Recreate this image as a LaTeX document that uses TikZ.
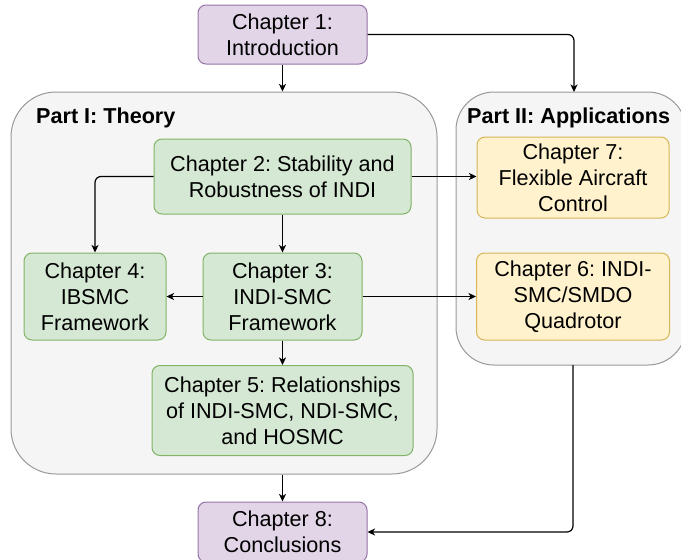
\documentclass[tikz,border=0pt]{standalone}
\usepackage{fontspec}
\setmainfont{Liberation Sans}
\usetikzlibrary{arrows.meta}
\frenchspacing
\definecolor{purplefill}{HTML}{E1D5E7}
\definecolor{purpledraw}{HTML}{9673A6}
\definecolor{greenfill}{HTML}{D5E8D4}
\definecolor{greendraw}{HTML}{82B366}
\definecolor{yellowfill}{HTML}{FFF2CC}
\definecolor{yellowdraw}{HTML}{D6B656}
\definecolor{partfill}{HTML}{F5F5F5}
\definecolor{partdraw}{HTML}{999999}
\tikzset{
  chap/.style={draw, rounded corners=8pt, align=center, line width=1pt, inner sep=0pt,
    font=\fontsize{21.6}{26}\selectfont\frenchspacing},
  purplebox/.style={chap, fill=purplefill, draw=purpledraw},
  greenbox/.style={chap, fill=greenfill, draw=greendraw},
  yellowbox/.style={chap, fill=yellowfill, draw=yellowdraw},
  partbox/.style={draw=partdraw, fill=partfill, line width=1pt, inner sep=0pt},
  partlabel/.style={anchor=west, inner sep=0pt, font=\fontsize{21.6}{26}\selectfont\bfseries\frenchspacing},
  arr/.style={draw=black, line width=1.2pt, -{Stealth[length=7.5pt,width=7pt,inset=2pt]}},
}
\begin{document}
\begin{tikzpicture}[x=1pt,y=-1pt]
\useasboundingbox (0,0) rectangle (681,560);
\clip (0,0) rectangle (681,560);
% containers
\node[partbox, rounded corners=45pt, minimum width=426pt, minimum height=382pt] (p1) at (224,283) {};
\node[partbox, rounded corners=38pt, minimum width=230pt, minimum height=273pt] (p2) at (571,228.5) {};
\node[partlabel] (l1) at (36,118) {Part I: Theory};
\node[partlabel] (l2) at (467,118) {Part II: Applications};
% chapters
\node[purplebox, minimum width=169pt, minimum height=59pt] (c1) at (282.5,34.5) {Chapter 1:\\Introduction};
\node[greenbox, minimum width=257pt, minimum height=75pt] (c2) at (282.5,176.5) {Chapter 2: Stability and\\Robustness of INDI};
\node[yellowbox, minimum width=192pt, minimum height=81pt] (c7) at (573,177.5) {Chapter 7:\\Flexible Aircraft\\Control};
\node[greenbox, minimum width=142pt, minimum height=87pt] (c4) at (95,296.5) {Chapter 4:\\IBSMC\\Framework};
\node[greenbox, minimum width=159pt, minimum height=87pt] (c3) at (282.5,296.5) {Chapter 3:\\INDI-SMC\\Framework};
\node[yellowbox, minimum width=193pt, minimum height=87pt] (c6) at (573,296.5) {Chapter 6: INDI-\\SMC/SMDO\\Quadrotor};
\node[greenbox, minimum width=261pt, minimum height=90pt] (c5) at (282.5,410.5) {Chapter 5: Relationships\\of INDI-SMC, NDI-SMC,\\and HOSMC};
\node[purplebox, minimum width=169pt, minimum height=60pt] (c8) at (282.5,532) {Chapter 8:\\Conclusions};
% helper coordinates
\coordinate (p2in) at (574,92);
\coordinate (p2out) at (573,365);
% connectors
\draw[arr] (c1.south) -- (c1.south |- p1.north);
\draw[arr, rounded corners=6pt] (c1.east) -| (p2in);
\draw[arr, rounded corners=6pt] (c2.west) -| (c4.north);
\draw[arr] (c2.south) -- (c3.north);
\draw[arr] (c2.east) -- (c2.east -| c7.west);
\draw[arr] (c3.west) -- (c4.east);
\draw[arr] (c3.east) -- (c6.west);
\draw[arr] (c3.south) -- (c5.north);
\draw[arr] (c5.south |- p1.south) -- (c8.north);
\draw[arr, rounded corners=6pt] (p2out) |- (c8.east);
\end{tikzpicture}
\end{document}
